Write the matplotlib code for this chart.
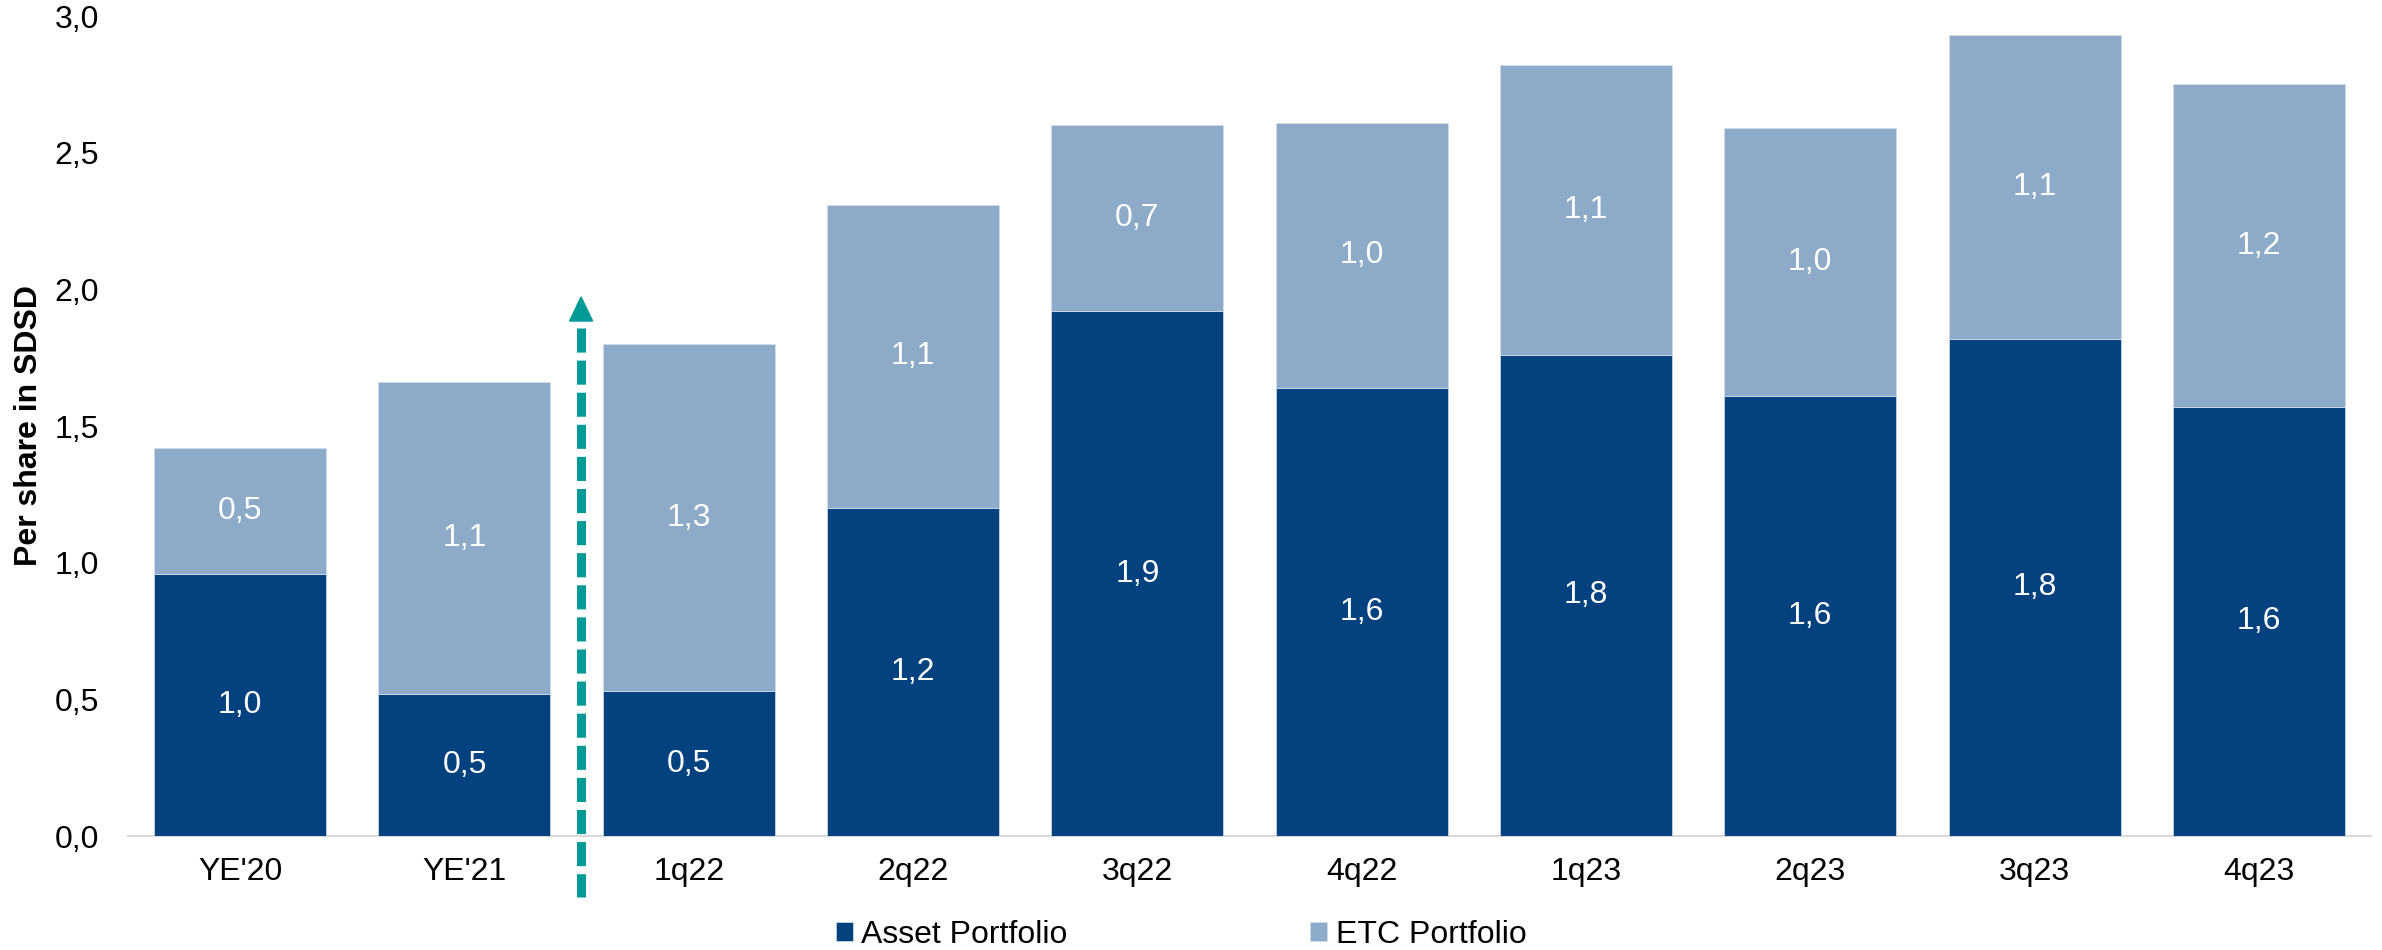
import matplotlib
matplotlib.use("Agg")
import matplotlib.pyplot as plt
from matplotlib.ticker import FuncFormatter
from matplotlib.patches import Polygon

plt.rcParams['font.family'] = ['Liberation Sans', 'DejaVu Sans']

categories = ["YE'20", "YE'21", "1q22", "2q22", "3q22", "4q22", "1q23", "2q23", "3q23", "4q23"]
asset_portfolio = [0.96, 0.52, 0.53, 1.20, 1.92, 1.64, 1.76, 1.61, 1.82, 1.57]
etc_portfolio = [0.46, 1.14, 1.27, 1.11, 0.68, 0.97, 1.06, 0.98, 1.11, 1.18]
series_names = ["Asset Portfolio", "ETC Portfolio"]
y_ticks = [0.0, 0.5, 1.0, 1.5, 2.0, 2.5, 3.0]

DARK = '#03427F'
LIGHT = '#8DABC9'
TEAL = '#009B96'
FS = 23

W, H = 2382, 950
fig = plt.figure(figsize=(W / 100, H / 100), dpi=100)
ax = fig.add_axes([128 / W, 1 - 836 / H, 2243 / W, 820 / H])

x = list(range(len(categories)))
bw = 0.767
b1 = ax.bar(x, asset_portfolio, width=bw, color=DARK, edgecolor='#D3DEEA', linewidth=0.5,
            label=series_names[0], zorder=2)
b2 = ax.bar(x, etc_portfolio, width=bw, bottom=asset_portfolio, color=LIGHT, edgecolor='#D3DEEA',
            linewidth=0.5, label=series_names[1], zorder=2)

fmt = lambda v: f"{v:.1f}".replace('.', ',')
for xi, a, e in zip(x, asset_portfolio, etc_portfolio):
    ax.text(xi, a / 2, fmt(a), ha='center', va='center', color='white', fontsize=FS, zorder=3)
    ax.text(xi, a + e / 2, fmt(e), ha='center', va='center', color='white', fontsize=FS, zorder=3)

ax.set_xlim(-0.5, len(categories) - 0.5)
ax.set_ylim(0, 3.0)
ax.set_yticks(y_ticks)
ax.yaxis.set_major_formatter(FuncFormatter(lambda v, p: f"{v:.1f}".replace('.', ',')))
ax.set_xticks(x)
ax.set_xticklabels(categories)
ax.tick_params(axis='y', length=0, pad=21, labelsize=FS, colors='black')
ax.tick_params(axis='x', length=0, pad=15, labelsize=FS, colors='black')

for s in ['top', 'right', 'left']:
    ax.spines[s].set_visible(False)
ax.spines['bottom'].set_color('#D9D9D9')
ax.spines['bottom'].set_linewidth(1.5)
ax.spines['bottom'].set_zorder(1)

ax.set_ylabel("Per share in SDSD", fontsize=FS, fontweight='bold')
ax.yaxis.set_label_coords((44 - 128) / 2243, 0.5)

# dashed teal arrow between YE'21 and 1q22
px_y = 820 / 3.0
px_x = 2243 / len(categories)
ax_x = 1.52
tip = (836 - 297) / px_y
head_base = (836 - 321) / px_y
shaft_top = (836 - 328) / px_y
shaft_bot = (836 - 897) / px_y
ax.plot([ax_x, ax_x], [shaft_top, shaft_bot], color=TEAL, linewidth=6.5,
        dashes=(24 / 9, 8 / 9), solid_capstyle='butt', dash_capstyle='butt', clip_on=False, zorder=4)
hw = 11.5 / px_x
ax.add_patch(Polygon([[ax_x - hw, head_base], [ax_x + hw, head_base], [ax_x, tip]],
                     closed=True, color=TEAL, clip_on=False, zorder=4))

leg = fig.legend(handles=[b1, b2], labels=series_names, loc='center left',
                 bbox_to_anchor=(836 / W, 1 - 935 / H), ncol=2, frameon=False, fontsize=FS,
                 handlelength=0.52, handleheight=0.52, handletextpad=0.27, columnspacing=7.6,
                 borderpad=0, borderaxespad=0)

fig.savefig('out.png', dpi=100)
